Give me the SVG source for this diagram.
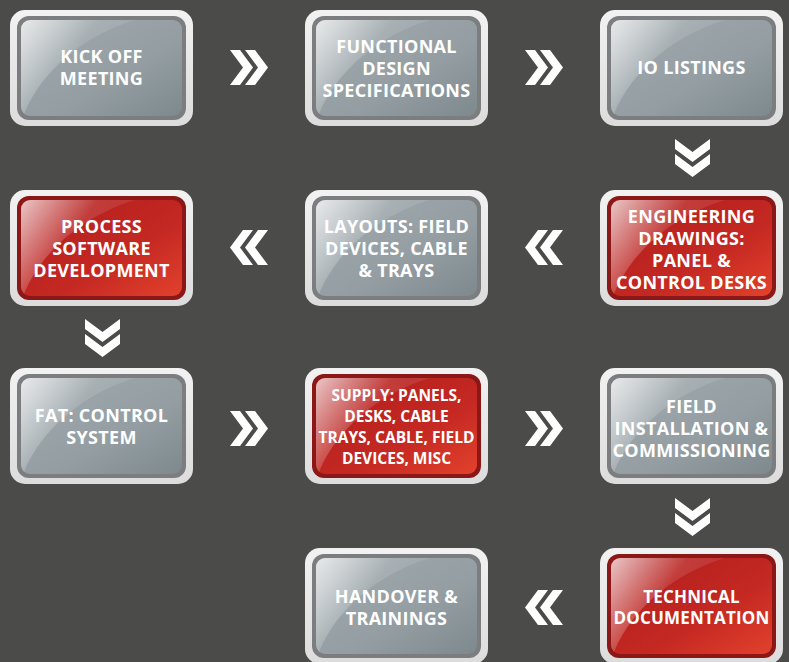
<svg xmlns="http://www.w3.org/2000/svg" xmlns:xlink="http://www.w3.org/1999/xlink" width="789" height="662" viewBox="0 0 789 662">
<defs>
<linearGradient id="frameG" x1="0" y1="0" x2="0" y2="1"><stop offset="0" stop-color="#f2f2f2"/><stop offset="1" stop-color="#dcdcdc"/></linearGradient>
<linearGradient id="grayFace" x1="0" y1="0" x2="1" y2="1"><stop offset="0" stop-color="#a2abaf"/><stop offset="0.6" stop-color="#939da2"/><stop offset="1" stop-color="#7e898e"/></linearGradient>
<linearGradient id="redFace" x1="0" y1="0" x2="1" y2="1"><stop offset="0" stop-color="#b01e1e"/><stop offset="0.6" stop-color="#c42822"/><stop offset="1" stop-color="#e2412c"/></linearGradient>
<linearGradient id="gloss" x1="0" y1="0" x2="1" y2="0.6"><stop offset="0" stop-color="#ffffff" stop-opacity="0.75"/><stop offset="0.5" stop-color="#ffffff" stop-opacity="0.12"/><stop offset="1" stop-color="#ffffff" stop-opacity="0.04"/></linearGradient>
<clipPath id="faceClip"><rect x="11" y="10" width="161" height="96" rx="9"/></clipPath>
<g id="boxGray">
<rect x="0" y="0" width="183" height="116" rx="15" fill="url(#frameG)"/>
<rect x="7" y="6" width="169" height="104" rx="12" fill="#7b7d7e"/>
<rect x="11" y="10" width="161" height="96" rx="9" fill="url(#grayFace)"/>
<path d="M11 10 L125 10 C75 25 32 60 14 104 L11 104 Z" fill="url(#gloss)" clip-path="url(#faceClip)"/>
</g>
<g id="boxRed">
<rect x="0" y="0" width="183" height="116" rx="15" fill="url(#frameG)"/>
<rect x="7" y="6" width="169" height="104" rx="12" fill="#8c1717"/>
<rect x="11" y="10" width="161" height="96" rx="9" fill="url(#redFace)"/>
<path d="M11 10 L125 10 C75 25 32 60 14 104 L11 104 Z" fill="url(#gloss)" clip-path="url(#faceClip)"/>
</g>
<g id="chev">
<polygon points="0,0 10,0 23,17.5 10,35 0,35 13,17.5"/>
<polygon points="15,0 25,0 38,17.5 25,35 15,35 28,17.5"/>
</g>
<style>
.t{font-family:"Open Sans","Liberation Sans",sans-serif;font-weight:700;font-size:18px;letter-spacing:0.3px;fill:#ffffff;text-anchor:middle}
.s{font-size:15.5px;letter-spacing:0}
.m{font-size:17px;letter-spacing:0.2px}
.c{fill:#ffffff}
</style>
</defs>
<rect width="789" height="662" fill="#4b4b4a"/>
<g id="connectors" class="c">
<use xlink:href="#chev" transform="translate(230,50)"/>
<use xlink:href="#chev" transform="translate(525,50)"/>
<use xlink:href="#chev" transform="translate(710,139) rotate(90)"/>
<use xlink:href="#chev" transform="translate(563,265) rotate(180)"/>
<use xlink:href="#chev" transform="translate(268,265) rotate(180)"/>
<use xlink:href="#chev" transform="translate(120,319) rotate(90)"/>
<use xlink:href="#chev" transform="translate(230,411)"/>
<use xlink:href="#chev" transform="translate(525,411)"/>
<use xlink:href="#chev" transform="translate(710,498) rotate(90)"/>
<use xlink:href="#chev" transform="translate(563,625) rotate(180)"/>
</g>
<g id="n1"><use xlink:href="#boxGray" x="10" y="10"/><text class="t"><tspan x="101.5" y="63">KICK OFF</tspan><tspan x="101.5" y="85">MEETING</tspan></text></g>
<g id="n2"><use xlink:href="#boxGray" x="305" y="10"/><text class="t"><tspan x="396.5" y="53">FUNCTIONAL</tspan><tspan x="396.5" y="75">DESIGN</tspan><tspan x="396.5" y="97">SPECIFICATIONS</tspan></text></g>
<g id="n3"><use xlink:href="#boxGray" x="600" y="10"/><text class="t"><tspan x="691.5" y="74">IO LISTINGS</tspan></text></g>
<g id="n4"><use xlink:href="#boxRed" x="600" y="190"/><text class="t"><tspan x="691.5" y="223">ENGINEERING</tspan><tspan x="691.5" y="245">DRAWINGS:</tspan><tspan x="691.5" y="267">PANEL &amp;</tspan><tspan x="691.5" y="289">CONTROL DESKS</tspan></text></g>
<g id="n5"><use xlink:href="#boxGray" x="305" y="190"/><text class="t"><tspan x="396.5" y="233">LAYOUTS: FIELD</tspan><tspan x="396.5" y="255">DEVICES, CABLE</tspan><tspan x="396.5" y="277">&amp; TRAYS</tspan></text></g>
<g id="n6"><use xlink:href="#boxRed" x="10" y="190"/><text class="t"><tspan x="101.5" y="233">PROCESS</tspan><tspan x="101.5" y="255">SOFTWARE</tspan><tspan x="101.5" y="277">DEVELOPMENT</tspan></text></g>
<g id="n7"><use xlink:href="#boxGray" x="10" y="368"/><text class="t"><tspan x="101.5" y="422">FAT: CONTROL</tspan><tspan x="101.5" y="444">SYSTEM</tspan></text></g>
<g id="n8"><use xlink:href="#boxRed" x="305" y="368"/><text class="t s"><tspan x="396.5" y="401">SUPPLY: PANELS,</tspan><tspan x="396.5" y="422">DESKS, CABLE</tspan><tspan x="396.5" y="443">TRAYS, CABLE, FIELD</tspan><tspan x="396.5" y="464">DEVICES, MISC</tspan></text></g>
<g id="n9"><use xlink:href="#boxGray" x="600" y="368"/><text class="t"><tspan x="691.5" y="413">FIELD</tspan><tspan x="691.5" y="435">INSTALLATION &amp;</tspan><tspan x="691.5" y="457">COMMISSIONING</tspan></text></g>
<g id="n10"><use xlink:href="#boxRed" x="600" y="548"/><text class="t m"><tspan x="691.5" y="603">TECHNICAL</tspan><tspan x="691.5" y="624">DOCUMENTATION</tspan></text></g>
<g id="n11"><use xlink:href="#boxGray" x="305" y="548"/><text class="t"><tspan x="396.5" y="603">HANDOVER &amp;</tspan><tspan x="396.5" y="625">TRAININGS</tspan></text></g>
</svg>
